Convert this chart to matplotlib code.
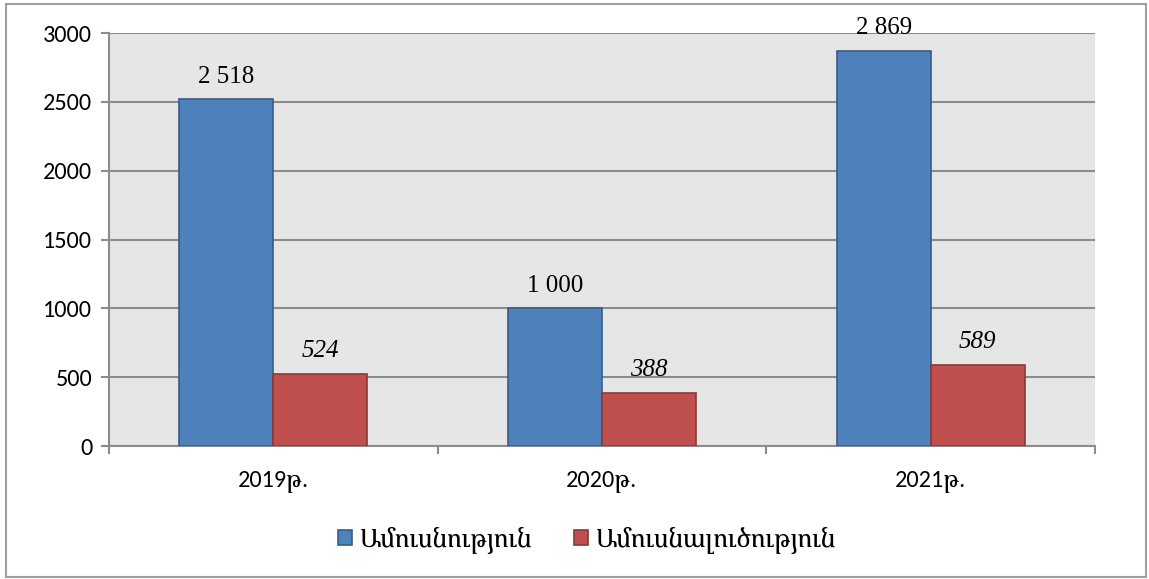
import matplotlib
matplotlib.use("Agg")
import matplotlib.pyplot as plt
from matplotlib.patches import Rectangle
import numpy as np

years = ["2019թ.", "2020թ.", "2021թ."]
marriages = [2518, 1000, 2869]
divorces = [524, 388, 589]
series_names = ["Ամուսնություն", "Ամուսնալուծություն"]
yticks = [0, 500, 1000, 1500, 2000, 2500, 3000]

plt.rcParams["font.family"] = ["Carlito", "Noto Serif Armenian", "DejaVu Sans"]

blue, blue_edge = "#4F81BD", "#385D8A"
red, red_edge = "#C0504D", "#8C3836"
grid_col = "#8C8C8C"

fig = plt.figure(figsize=(11.49, 5.79), dpi=100)
ax = fig.add_axes([0.0949, 0.2297, 0.8581, 0.7133])
ax.set_facecolor("#E6E6E6")

# outer frame of the chart area
fig.patches.append(Rectangle((6 / 1149, 2 / 579), 1140 / 1149, 573 / 579,
                             transform=fig.transFigure, fill=False,
                             edgecolor="#A0A0A0", linewidth=1.5))

x = np.arange(len(years))
w = 0.286
b1 = ax.bar(x - w / 2, marriages, w, color=blue, edgecolor=blue_edge,
            linewidth=1.2, label=series_names[0], zorder=3)
b2 = ax.bar(x + w / 2, divorces, w, color=red, edgecolor=red_edge,
            linewidth=1.2, label=series_names[1], zorder=3)

for rect, v in zip(b1, marriages):
    s = f"{v:,}".replace(",", " ")
    ax.annotate(s, (rect.get_x() + rect.get_width() / 2, v),
                xytext=(0, 12), textcoords="offset points",
                ha="center", va="baseline", fontsize=18,
                family=["Liberation Serif"], annotation_clip=False)
for rect, v in zip(b2, divorces):
    ax.annotate(str(v), (rect.get_x() + rect.get_width() / 2, v),
                xytext=(0, 12), textcoords="offset points",
                ha="center", va="baseline", fontsize=18, style="italic",
                family=["Liberation Serif"], annotation_clip=False)

ax.set_xlim(-0.5, len(years) - 0.5)
ax.set_ylim(0, 3000)
ax.set_yticks(yticks)
ax.yaxis.grid(True, color=grid_col, linewidth=1.5, zorder=0)
ax.tick_params(axis="y", direction="out", length=6, width=1.5,
               color=grid_col, labelsize=17.5, pad=6)

ax.set_xticks(np.arange(-0.5, len(years), 1.0))
ax.set_xticklabels([])
ax.set_xticks(x, minor=True)
ax.set_xticklabels(years, minor=True, fontsize=17.5)
ax.tick_params(axis="x", which="major", direction="out", length=6,
               width=1.5, color=grid_col)
ax.tick_params(axis="x", which="minor", length=0, pad=18)

for side in ["top", "right"]:
    ax.spines[side].set_visible(False)
for side in ["left", "bottom"]:
    ax.spines[side].set_color(grid_col)
    ax.spines[side].set_linewidth(1.5)

fig.legend(handles=[b1, b2], loc="center", bbox_to_anchor=(0.511, 0.067),
           ncol=2, frameon=False, handlelength=0.55, handleheight=0.55,
           handletextpad=0.3, columnspacing=1.6,
           prop={"family": ["Noto Serif Armenian", "DejaVu Serif"], "size": 18.5})

fig.savefig("out.png", dpi=100)
